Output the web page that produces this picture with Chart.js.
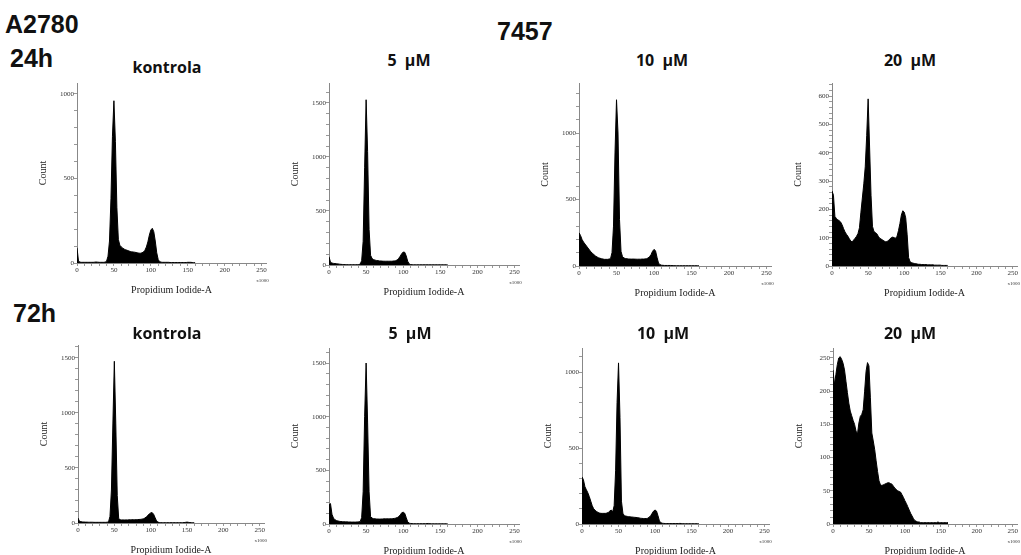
<!DOCTYPE html>
<html>
<head>
<meta charset="utf-8">
<script src="https://cdn.jsdelivr.net/npm/chart.js@4/dist/chart.umd.min.js"></script>
<style>
  html, body { margin: 0; padding: 0; background: #fff; }
  body { width: 1021px; height: 555px; position: relative; overflow: hidden; }
  canvas { position: absolute; }
  .big { position: absolute; font: bold 25px "Liberation Sans", Arial, sans-serif; line-height: 1; color: #111; white-space: nowrap; }
  .ttl { position: absolute; width: 120px; text-align: center; font: 700 16px "Open Sans", sans-serif; line-height: 1; color: #111; word-spacing: 4px; white-space: nowrap; }
</style>
</head>
<body>
<div class="big" style="left:5px;top:12px">A2780</div>
<div class="big" style="left:10px;top:46px">24h</div>
<div class="big" style="left:497px;top:19px">7457</div>
<div class="big" style="left:13px;top:301px">72h</div>

<script>
'use strict';

// histogram channels (Propidium Iodide-A, x1000)
const bins = [
  0, 2, 4, 6, 8, 10, 12, 14, 16, 18,
  20, 22, 24, 26, 28, 30, 32, 34, 36, 38,
  40, 42, 44, 46, 48, 50, 52, 54, 56, 58,
  60, 62, 64, 66, 68, 70, 72, 74, 76, 78,
  80, 82, 84, 86, 88, 90, 92, 94, 96, 98,
  100, 102, 104, 106, 108, 110, 112, 114, 116, 118,
  120, 122, 124, 126, 128, 130, 132, 134, 136, 138,
  140, 142, 144, 146, 148, 150, 152, 154, 156, 158,
  160
];

// 24h
const count24Kontrola = [
  90, 12, 5, 4, 4, 4, 4, 4, 4, 4,
  4, 4, 5, 6, 5, 4, 4, 4, 4, 5,
  10, 40, 130, 380, 750, 960, 720, 330, 140, 105,
  95, 88, 82, 78, 75, 72, 68, 66, 65, 64,
  62, 60, 58, 58, 60, 65, 75, 95, 125, 165,
  195, 205, 185, 130, 60, 20, 8, 5, 4, 4,
  4, 4, 4, 3, 3, 3, 3, 3, 3, 3,
  3, 3, 3, 3, 3, 4, 4, 4, 3, 2,
  2
];
const count24uM5 = [
  77, 25, 18, 15, 13, 12, 10, 8, 6, 5,
  4, 4, 3, 3, 3, 3, 3, 3, 3, 3,
  4, 8, 40, 220, 900, 1530, 1050, 330, 90, 60,
  50, 45, 42, 40, 38, 37, 36, 35, 35, 35,
  35, 35, 35, 36, 38, 40, 48, 62, 82, 105,
  120, 118, 85, 35, 10, 4, 3, 2, 2, 2,
  2, 2, 2, 2, 2, 2, 2, 2, 2, 2,
  2, 2, 2, 2, 2, 2, 2, 2, 2, 2,
  1
];
const count24uM10 = [
  250, 230, 200, 180, 165, 150, 135, 120, 105, 95,
  85, 75, 68, 62, 58, 55, 52, 50, 50, 50,
  52, 55, 100, 300, 850, 1250, 1000, 350, 110, 70,
  60, 56, 54, 53, 52, 52, 52, 52, 51, 51,
  51, 51, 52, 52, 53, 55, 60, 70, 85, 110,
  125, 115, 65, 22, 10, 6, 5, 4, 4, 4,
  4, 4, 3, 3, 2, 2, 2, 2, 2, 2,
  2, 2, 2, 2, 2, 2, 2, 2, 2, 2,
  1
];
const count24uM20 = [
  265, 250, 175, 168, 163, 160, 155, 145, 132, 120,
  112, 105, 96, 88, 85, 92, 98, 105, 115, 135,
  190, 240, 290, 350, 460, 590, 420, 250, 140, 122,
  118, 114, 105, 98, 95, 92, 88, 86, 86, 90,
  95, 100, 102, 100, 98, 105, 125, 150, 180, 195,
  190, 170, 110, 30, 15, 12, 10, 9, 8, 7,
  6, 6, 5, 5, 5, 5, 4, 4, 4, 4,
  4, 3, 3, 3, 3, 3, 2, 2, 2, 2,
  2
];

// 72h
const count72Kontrola = [
  45, 15, 12, 10, 9, 8, 8, 7, 7, 7,
  7, 6, 6, 6, 6, 6, 6, 6, 6, 6,
  7, 10, 60, 300, 900, 1470, 900, 250, 40, 30,
  28, 28, 28, 28, 28, 29, 29, 30, 30, 30,
  30, 31, 32, 33, 35, 38, 45, 55, 68, 82,
  92, 95, 80, 50, 20, 8, 4, 3, 3, 3,
  3, 3, 3, 3, 3, 3, 3, 3, 3, 3,
  3, 3, 3, 4, 6, 8, 6, 4, 3, 2,
  2
];
const count72uM5 = [
  180, 190, 90, 55, 40, 32, 28, 25, 23, 22,
  21, 20, 20, 19, 19, 18, 18, 18, 18, 19,
  20, 22, 60, 300, 1000, 1500, 950, 300, 70, 55,
  50, 48, 47, 46, 46, 46, 47, 48, 48, 48,
  48, 48, 49, 50, 52, 55, 60, 70, 85, 105,
  110, 100, 60, 20, 8, 5, 4, 3, 3, 3,
  3, 3, 3, 3, 3, 3, 4, 5, 3, 2,
  2, 2, 2, 2, 2, 2, 2, 2, 2, 2,
  1
];
const count72uM10 = [
  310, 290, 245, 225, 205, 180, 150, 120, 100, 90,
  82, 76, 72, 70, 70, 70, 70, 72, 76, 85,
  92, 80, 120, 350, 800, 1060, 700, 150, 70, 55,
  52, 50, 48, 47, 46, 45, 44, 43, 42, 40,
  38, 37, 36, 36, 36, 38, 45, 55, 70, 85,
  92, 85, 55, 20, 8, 5, 4, 3, 3, 3,
  3, 3, 3, 3, 3, 3, 3, 4, 3, 2,
  2, 2, 2, 2, 2, 2, 2, 2, 2, 2,
  1
];
const count72uM20 = [
  232, 210, 225, 240, 250, 252, 248, 242, 232, 215,
  198, 182, 170, 163, 156, 150, 140, 135, 152, 162,
  165, 172, 200, 230, 243, 238, 190, 137, 125, 112,
  95, 79, 65, 59, 58, 59, 60, 61, 62, 62,
  61, 60, 57, 54, 52, 50, 49, 48, 44, 40,
  35, 31, 26, 21, 16, 12, 8, 5, 4, 3,
  3, 2, 2, 2, 2, 2, 2, 2, 2, 2,
  2, 2, 2, 3, 2, 2, 2, 2, 2, 2,
  2
];

const panelTitles = ['kontrola', '5 µM', '10 µM', '20 µM', 'kontrola', '5 µM', '10 µM', '20 µM'];
const panelCounts = [count24Kontrola, count24uM5, count24uM10, count24uM20,
                     count72Kontrola, count72uM5, count72uM10, count72uM20];
// y axis range and tick steps per panel
const yMax   = [1065, 1685, 1376, 646, 1618, 1640, 1158, 265];
const yMajor = [500, 500, 500, 100, 500, 500, 500, 50];
const yMinor = [100, 100, 100, 20, 100, 100, 100, 10];
const X_MAX = 256;

/* ── geometry (plot area in page px) ── */
const layout = [
  { x0: 77,  right: 266, top: 83,  bottom: 263, tx: 167, ty: 59 },
  { x0: 329, right: 519, top: 83,  bottom: 265, tx: 409, ty: 52 },
  { x0: 579, right: 771, top: 83,  bottom: 266, tx: 662, ty: 52 },
  { x0: 832, right: 1017, top: 83, bottom: 266, tx: 910, ty: 52 },
  { x0: 78,  right: 264, top: 345, bottom: 523, tx: 167, ty: 325 },
  { x0: 329, right: 519, top: 348, bottom: 524, tx: 410, ty: 325 },
  { x0: 582, right: 769, top: 348, bottom: 524, tx: 663, ty: 325 },
  { x0: 833, right: 1017, top: 348, bottom: 524, tx: 910, ty: 325 },
];
const Y_W = 40, X_H = 33, PAD_T = 4, PAD_R = 14;

const serif = '"Liberation Serif", "Times New Roman", serif';

const x1000Label = {
  id: 'x1000',
  afterDraw(chart) {
    const xs = chart.scales.x, ctx = chart.ctx;
    ctx.save();
    ctx.font = '5px ' + serif;
    ctx.fillStyle = '#333';
    ctx.textAlign = 'center';
    ctx.fillText('x1000', xs.getPixelForValue(250) + 1, xs.top + 19);
    ctx.restore();
  }
};

function makePanel(i) {
  const g = layout[i];
  const cv = document.createElement('canvas');
  const w = (g.right - g.x0) + Y_W + PAD_R;
  const h = (g.bottom - g.top) + PAD_T + X_H;
  cv.width = w; cv.height = h;
  cv.style.left = (g.x0 - Y_W) + 'px';
  cv.style.top = (g.top - PAD_T) + 'px';
  cv.style.width = w + 'px'; cv.style.height = h + 'px';
  document.body.appendChild(cv);

  const ttl = document.createElement('div');
  ttl.className = 'ttl';
  ttl.textContent = panelTitles[i];
  ttl.style.left = (g.tx - 60) + 'px';
  ttl.style.top = g.ty + 'px';
  document.body.appendChild(ttl);

  const counts = panelCounts[i];
  const major = yMajor[i];

  new Chart(cv, {
    type: 'line',
    data: {
      datasets: [{
        data: bins.map((b, k) => ({ x: b, y: counts[k] })),
        fill: 'origin',
        backgroundColor: '#000',
        borderColor: '#000',
        borderWidth: 1,
        pointRadius: 0,
        tension: 0,
      }],
    },
    options: {
      responsive: false, animation: false, events: [],
      layout: { padding: { left: 0, top: PAD_T, right: PAD_R, bottom: 0 } },
      plugins: { legend: { display: false }, tooltip: { enabled: false } },
      scales: {
        x: {
          type: 'linear', min: 0, max: X_MAX,
          ticks: {
            stepSize: 10, includeBounds: false, autoSkip: false, maxRotation: 0, minRotation: 0,
            padding: 0, color: '#333', font: { family: serif, size: 7 },
            callback: v => (Math.round(v) % 50 === 0 ? String(Math.round(v)) : ''),
          },
          grid: { drawOnChartArea: false, tickLength: 3, color: '#999' },
          border: { color: '#888', width: 1 },
          title: { display: true, text: 'Propidium Iodide-A', color: '#222', padding: 0,
                   font: { family: serif, size: 10 } },
          afterFit: s => { s.height = X_H; s.paddingLeft = 0; s.paddingRight = 0; },
        },
        y: {
          min: 0, max: yMax[i],
          ticks: {
            stepSize: yMinor[i], includeBounds: false, autoSkip: false,
            padding: 0, color: '#333', font: { family: serif, size: 7 },
            callback: v => (Math.round(v) % major === 0 ? String(Math.round(v)) : ''),
          },
          grid: { drawOnChartArea: false, tickLength: 3, color: '#999' },
          border: { color: '#888', width: 1 },
          title: { display: true, text: 'Count', color: '#222', padding: 0,
                   font: { family: serif, size: 10 } },
          afterFit: s => { s.width = Y_W; s.paddingTop = 0; s.paddingBottom = 0; },
        },
      },
    },
    plugins: [x1000Label],
  });
}

for (let i = 0; i < 8; i++) makePanel(i);
</script>
</body>
</html>
